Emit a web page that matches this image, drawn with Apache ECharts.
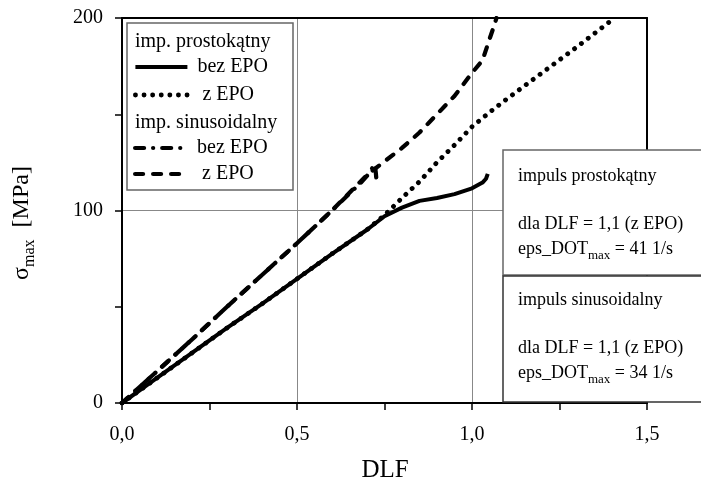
<!DOCTYPE html>
<html><head><meta charset="utf-8">
<script src="https://cdn.jsdelivr.net/npm/echarts@6/dist/echarts.min.js"></script>
<style>html,body{margin:0;padding:0;background:#fff}#c{width:701px;height:486px}</style>
</head><body><div id="c"></div>
<script>
// DLF / sigma_max [MPa]
const dlfRectBez   = [0, 0.1, 0.2, 0.3, 0.4, 0.5, 0.6, 0.7, 0.75, 0.8, 0.85, 0.9, 0.95, 1.0, 1.03, 1.04, 1.045];
const sigmaRectBez = [0, 13, 26, 39, 51.5, 64.5, 77.5, 90, 97, 101.5, 105, 106.5, 108.5, 111.5, 114.5, 116.5, 119];

const dlfRectZ   = [0, 0.1, 0.2, 0.3, 0.4, 0.5, 0.6, 0.7, 0.75, 0.8, 0.85, 0.9, 0.95, 1.0, 1.05, 1.1, 1.2, 1.3, 1.4];
const sigmaRectZ = [0, 13, 26, 39, 51.5, 64.5, 77.5, 90, 97.5, 106.5, 115, 125, 134, 143.5, 151, 158, 171.5, 185, 199];

const dlfSinBez   = [0, 0.1, 0.2, 0.3, 0.4, 0.5, 0.6, 0.68, 0.7, 0.715, 0.722, 0.725, 0.727];
const sigmaSinBez = [0, 16.5, 33, 50, 66.5, 83, 100, 114, 118, 122, 124, 120, 116];

const dlfSinZ   = [0, 0.1, 0.2, 0.3, 0.4, 0.5, 0.6, 0.7, 0.75, 0.8, 0.85, 0.9, 0.95, 1.0, 1.03, 1.05, 1.065, 1.07];
const sigmaSinZ = [0, 16.5, 33, 50, 66.5, 83, 100, 118.5, 125.5, 132.5, 140.5, 150, 159.5, 171.5, 178, 189, 197, 200];

const xTicks = [0, 0.5, 1.0, 1.5];
const yTicks = [0, 100, 200];

const legendNames = {rectBez: ' bez EPO', rectZ: '  z EPO', sinBez: ' bez EPO', sinZ: '  z EPO'};
const legendHeaders = ['imp. prostokątny', 'imp. sinusoidalny'];
const noteRect = ['impuls prostokątny', 'dla DLF = 1,1 (z EPO)', '41 1/s'];
const noteSin  = ['impuls sinusoidalny', 'dla DLF = 1,1 (z EPO)', '34 1/s'];

const FONT = "'Liberation Serif','Times New Roman',serif";
const pairs = (xs, ys) => xs.map((x, i) => [x, ys[i]]);

const chart = echarts.init(document.getElementById('c'), null, {renderer: 'canvas'});

function lineSeries(name, xs, ys, type, cap, width) {
  return {
    name, type: 'line', data: pairs(xs, ys), symbol: 'none', showSymbol: false,
    smooth: false, silent: true, animation: false,
    itemStyle: {color: '#000', opacity: 0},
    lineStyle: {color: '#000', width: width || 4, type: type, cap: cap || 'butt', join: 'round', opacity: 1}
  };
}

const axisTickStyle = {color: '#000', width: 1.5};
const legendBase = {
  orient: 'vertical', left: 133, itemWidth: 52, itemHeight: 14, padding: 0,
  selectedMode: false,
  textStyle: {fontSize: 20, fontFamily: FONT, color: '#000', lineHeight: 20},
  lineStyle: {width: 'inherit'},
  itemStyle: {opacity: 0, borderWidth: 0},
  formatter: n => legendNames[n]
};

function noteText(x, y, lines, z) {
  return [
    {type: 'text', x: x, y: y, z: z, style: {text: lines[0], font: '18px ' + FONT, fill: '#000', verticalAlign: 'middle'}},
    {type: 'text', x: x, y: y + 48, z: z, style: {text: lines[1], font: '18px ' + FONT, fill: '#000', verticalAlign: 'middle'}},
    {type: 'text', x: x, y: y + 60, z: z, style: {
      text: '{m|eps_DOT}{s|max}{m| = ' + lines[2] + '}',
      verticalAlign: 'top',
      rich: {
        m: {fontSize: 18, fontFamily: FONT, fill: '#000', lineHeight: 26, verticalAlign: 'middle'},
        s: {fontSize: 13, fontFamily: FONT, fill: '#000', lineHeight: 13, verticalAlign: 'bottom'}
      }
    }}
  ];
}

const option = {
  animation: false,
  backgroundColor: '#fff',
  grid: {left: 122, right: 54, top: 18, bottom: 83, containLabel: false},
  xAxis: [{
    type: 'value', min: xTicks[0], max: xTicks[xTicks.length - 1], interval: 0.5,
    axisLine: {show: true, onZero: false, lineStyle: {color: '#000', width: 2}},
    axisTick: {show: true, inside: false, length: 7, lineStyle: axisTickStyle},
    minorTick: {show: true, splitNumber: 2, length: 7, lineStyle: axisTickStyle},
    splitLine: {show: true, lineStyle: {color: '#888', width: 1}},
    axisLabel: {fontSize: 20, fontFamily: FONT, color: '#000', margin: 22,
      formatter: v => v.toFixed(1).replace('.', ',')}
  }, {
    type: 'value', position: 'top', min: 0, max: 1.5,
    axisLine: {show: true, onZero: false, lineStyle: {color: '#000', width: 2}},
    axisTick: {show: false}, axisLabel: {show: false}, splitLine: {show: false}
  }],
  yAxis: [{
    type: 'value', min: yTicks[0], max: yTicks[yTicks.length - 1], interval: 100,
    axisLine: {show: true, onZero: false, lineStyle: {color: '#000', width: 2}},
    axisTick: {show: true, inside: false, length: 7, lineStyle: axisTickStyle},
    minorTick: {show: true, splitNumber: 2, length: 7, lineStyle: axisTickStyle},
    splitLine: {show: true, lineStyle: {color: '#888', width: 1}},
    axisLabel: {fontSize: 20, fontFamily: FONT, color: '#000', margin: 19}
  }, {
    type: 'value', position: 'right', min: 0, max: 200,
    axisLine: {show: true, onZero: false, lineStyle: {color: '#000', width: 2}},
    axisTick: {show: false}, axisLabel: {show: false}, splitLine: {show: false}
  }],
  legend: [
    Object.assign({}, legendBase, {top: 57, itemGap: 8, data: ['rectBez', 'rectZ']}),
    Object.assign({}, legendBase, {top: 138, itemGap: 6, data: ['sinBez', 'sinZ']})
  ],
  series: [
    lineSeries('rectBez', dlfRectBez, sigmaRectBez, 'solid', 'butt', 4),
    lineSeries('rectZ', dlfRectZ, sigmaRectZ, [0.1, 8.5], 'round', 4.8),
    lineSeries('sinBez', dlfSinBez, sigmaSinBez, [9, 9, 0.1, 9], 'round', 4.2),
    lineSeries('sinZ', dlfSinZ, sigmaSinZ, [8, 10], 'round', 4.2)
  ],
  graphic: [
    {type: 'rect', z: -1, shape: {x: 127, y: 23, width: 166, height: 167},
      style: {fill: '#fff', stroke: '#666', lineWidth: 1.5}},
    {type: 'text', x: 135, y: 42, z: 10, style: {text: legendHeaders[0], font: '20px ' + FONT, fill: '#000', verticalAlign: 'middle'}},
    {type: 'text', x: 135, y: 123, z: 10, style: {text: legendHeaders[1], font: '20px ' + FONT, fill: '#000', verticalAlign: 'middle'}},
    {type: 'rect', z: 100, shape: {x: 503, y: 150, width: 250, height: 125},
      style: {fill: '#fff', stroke: '#666', lineWidth: 1.5}},
    {type: 'rect', z: 100, shape: {x: 503, y: 276, width: 250, height: 126},
      style: {fill: '#fff', stroke: '#333', lineWidth: 1.5}},
    ...noteText(518, 176, noteRect, 101),
    ...noteText(518, 300, noteSin, 101),
    {type: 'text', x: 22, y: 223, rotation: Math.PI / 2, z: 10, style: {
      text: '{a|σ}{b|max}{a|  [MPa]}',
      align: 'center', verticalAlign: 'middle',
      rich: {
        a: {fontSize: 24, fontFamily: FONT, fill: '#000', lineHeight: 32, verticalAlign: 'middle'},
        b: {fontSize: 16, fontFamily: FONT, fill: '#000', lineHeight: 16, verticalAlign: 'bottom'}
      }
    }},
    {type: 'text', x: 385, y: 470, z: 10, style: {text: 'DLF', font: '25px ' + FONT, fill: '#000', align: 'center', verticalAlign: 'middle'}}
  ]
};
chart.setOption(option);
</script>
</body></html>
